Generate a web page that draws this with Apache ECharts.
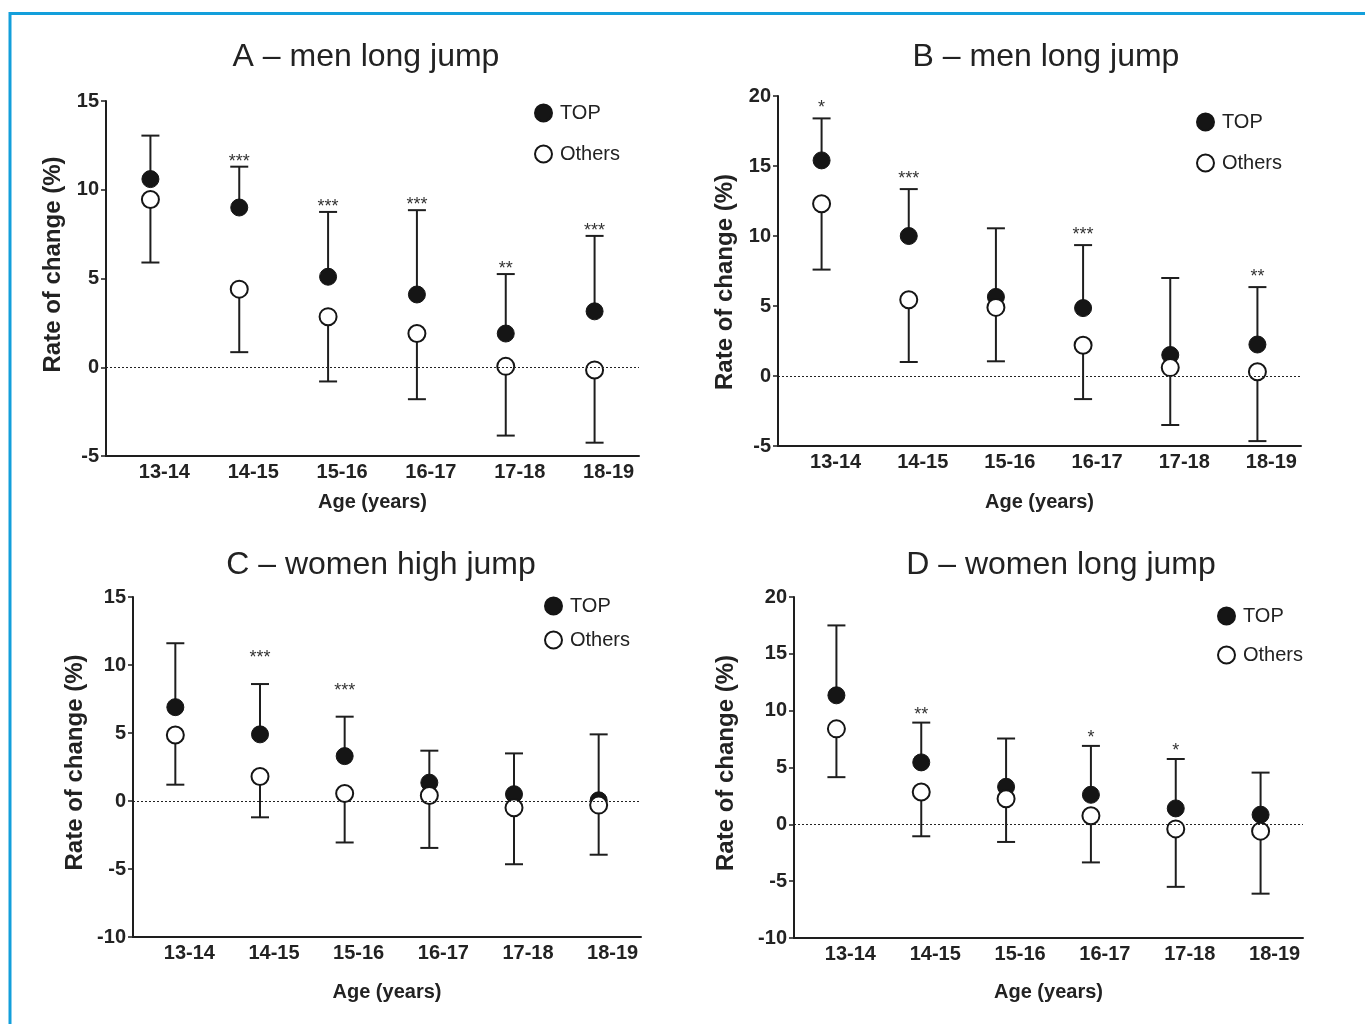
<!DOCTYPE html>
<html>
<head>
<meta charset="utf-8">
<script src="https://cdn.jsdelivr.net/npm/echarts@6/dist/echarts.min.js"></script>
<style>
html,body{margin:0;padding:0;background:#fff;}
#chart{width:1365px;height:1024px;}
</style>
</head>
<body>
<div id="chart"></div>
<script>
// ---------- data ----------
const categories = ['13-14', '14-15', '15-16', '16-17', '17-18', '18-19'];

// Panel A – men long jump
const aTop = [10.6, 9.0, 5.1, 4.1, 1.9, 3.15];
const aTopUpper = [13.05, 11.3, 8.75, 8.85, 5.25, 7.4];
const aOthers = [9.45, 4.4, 2.85, 1.9, 0.05, -0.15];
const aOthersLower = [5.9, 0.85, -0.8, -1.8, -3.85, -4.25];
const aStars = ['', '***', '***', '***', '**', '***'];

// Panel B – men long jump
const bTop = [15.4, 10.0, 5.65, 4.85, 1.5, 2.25];
const bTopUpper = [18.4, 13.35, 10.55, 9.35, 7.0, 6.35];
const bOthers = [12.3, 5.45, 4.9, 2.2, 0.6, 0.3];
const bOthersLower = [7.6, 1.0, 1.05, -1.65, -3.5, -4.65];
const bStars = ['*', '***', '', '***', '', '**'];

// Panel C – women high jump
const cTop = [6.9, 4.9, 3.3, 1.35, 0.5, 0.05];
const cTopUpper = [11.6, 8.6, 6.2, 3.7, 3.5, 4.9];
const cOthers = [4.85, 1.8, 0.55, 0.4, -0.5, -0.3];
const cOthersLower = [1.2, -1.2, -3.05, -3.45, -4.65, -3.95];
const cStars = ['', '***', '***', '', '', ''];

// Panel D – women long jump
const dTop = [11.35, 5.45, 3.3, 2.6, 1.4, 0.85];
const dTopUpper = [17.5, 8.95, 7.55, 6.9, 5.75, 4.55];
const dOthers = [8.4, 2.85, 2.25, 0.75, -0.4, -0.6];
const dOthersLower = [4.15, -1.05, -1.55, -3.35, -5.5, -6.1];
const dStars = ['', '**', '', '*', '*', ''];

const titles = ['A \u2013 men long jump', 'B \u2013 men long jump', 'C \u2013 women high jump', 'D \u2013 women long jump'];
const yMins = [-5, -5, -10, -10];
const yMaxs = [15, 20, 15, 20];
const yInterval = 5;
const yName = 'Rate of change (%)';
const xName = 'Age (years)';

// ---------- layout ----------
const FONT = "'Liberation Sans', Arial, Helvetica, sans-serif";
const INK = '#1e1e1e';
const panels = [
  {top: aTop, topUp: aTopUpper, oth: aOthers, othLo: aOthersLower, stars: aStars,
   grid: {left: 106, top: 101, width: 533, height: 355},
   title: [361, 36], legend: [529, 98, 21], starOff: 10, yGap: 41, yPad: [0, 0, 0, 28], xGap: 36},
  {top: bTop, topUp: bTopUpper, oth: bOthers, othLo: bOthersLower, stars: bStars,
   grid: {left: 778, top: 96, width: 523, height: 350},
   title: [1041, 36], legend: [1191, 107, 21], starOff: 15, yGap: 41, yPad: [0, 22, 0, 0], xGap: 46},
  {top: cTop, topUp: cTopUpper, oth: cOthers, othLo: cOthersLower, stars: cStars,
   grid: {left: 133, top: 597, width: 508, height: 340},
   title: [376, 544], legend: [539, 591, 14], starOff: 31, yGap: 46, yPad: [0, 0, 0, 9], xGap: 45},
  {top: dTop, topUp: dTopUpper, oth: dOthers, othLo: dOthersLower, stars: dStars,
   grid: {left: 794, top: 597, width: 509, height: 341},
   title: [1056, 544], legend: [1212, 601, 19], starOff: 13, yGap: 56, yPad: [0, 0, 0, 9], xGap: 44}
];

function errorBarRender(params, api) {
  const p1 = api.coord([api.value(0), api.value(1)]);
  const p2 = api.coord([api.value(0), api.value(2)]);
  const hw = 9;
  return {
    type: 'group',
    children: [
      {type: 'line', shape: {x1: p1[0], y1: p1[1], x2: p2[0], y2: p2[1]}, style: {stroke: INK, lineWidth: 2}},
      {type: 'line', shape: {x1: p2[0] - hw, y1: p2[1], x2: p2[0] + hw, y2: p2[1]}, style: {stroke: INK, lineWidth: 2}}
    ]
  };
}

const option = {
  animation: false,
  backgroundColor: '#fff',
  title: [], legend: [], grid: [], xAxis: [], yAxis: [], series: [],
  graphic: [{
    type: 'polyline', silent: true,
    shape: {points: [[10, 1030], [10, 13.5], [1370, 13.5]]},
    style: {stroke: '#139fdb', lineWidth: 3, fill: null}
  }]
};

panels.forEach((p, k) => {
  option.title.push({
    text: titles[k], left: p.title[0], top: p.title[1], textAlign: 'center',
    textStyle: {fontFamily: FONT, fontSize: 32, fontWeight: 'normal', color: '#222'}
  });
  option.legend.push({
    orient: 'vertical', left: p.legend[0], top: p.legend[1], itemGap: p.legend[2],
    itemWidth: 17, itemHeight: 17, selectedMode: false, icon: 'circle',
    data: ['TOP', 'Others'],
    textStyle: {fontFamily: FONT, fontSize: 20, color: '#222', padding: [0, 0, 0, 3]}
  });
  option.grid.push(Object.assign({containLabel: false}, p.grid));
  option.xAxis.push({
    type: 'category', gridIndex: k, data: categories, boundaryGap: true,
    name: xName, nameLocation: 'middle', nameGap: p.xGap,
    nameTextStyle: {fontFamily: FONT, fontSize: 20, fontWeight: 'bold', color: '#222'},
    axisLine: {onZero: false, lineStyle: {color: INK, width: 2}},
    axisTick: {alignWithLabel: true, length: 5, lineStyle: {color: INK, width: 1.5}},
    axisLabel: {fontFamily: FONT, fontSize: 20, fontWeight: 'bold', color: '#222', margin: 6, padding: [0, 0, 0, 28]},
    splitLine: {show: false}
  });
  option.yAxis.push({
    type: 'value', gridIndex: k, min: yMins[k], max: yMaxs[k], interval: yInterval,
    name: yName, nameLocation: 'middle', nameGap: p.yGap, nameRotate: 90,
    nameTextStyle: {fontFamily: FONT, fontSize: 24, fontWeight: 'bold', color: '#222', padding: p.yPad},
    axisLine: {show: true, lineStyle: {color: INK, width: 2}},
    axisTick: {show: true, length: 5, lineStyle: {color: INK, width: 1.5}},
    axisLabel: {fontFamily: FONT, fontSize: 20, fontWeight: 'bold', color: '#222', margin: 7},
    splitLine: {show: false}
  });
  // error bars TOP (upward) + zero line
  option.series.push({
    type: 'custom', name: 'errTop' + k, xAxisIndex: k, yAxisIndex: k, z: 1,
    renderItem: errorBarRender,
    data: categories.map((c, i) => [i, p.top[i], p.topUp[i]]),
    markLine: {
      silent: true, symbol: ['none', 'none'], label: {show: false},
      lineStyle: {type: [2, 2], color: '#222', width: 1.2},
      data: [{yAxis: 0}]
    }
  });
  // error bars Others (downward)
  option.series.push({
    type: 'custom', name: 'errOth' + k, xAxisIndex: k, yAxisIndex: k, z: 1,
    renderItem: errorBarRender,
    data: categories.map((c, i) => [i, p.oth[i], p.othLo[i]])
  });
  // significance stars
  const stars = p.stars, off = p.starOff;
  option.series.push({
    type: 'custom', name: 'stars' + k, xAxisIndex: k, yAxisIndex: k, z: 1,
    renderItem: function (params, api) {
      const pt = api.coord([api.value(0), api.value(1)]);
      return {
        type: 'text',
        style: {text: stars[params.dataIndex], x: pt[0], y: pt[1] - off + 5,
          align: 'center', verticalAlign: 'middle', fill: '#333', font: '18px ' + FONT}
      };
    },
    data: categories.map((c, i) => [i, p.topUp[i]])
  });
  option.series.push({
    type: 'scatter', name: 'TOP', xAxisIndex: k, yAxisIndex: k, z: 3,
    symbol: 'circle', symbolSize: 17,
    itemStyle: {color: '#151515', borderColor: '#151515', borderWidth: 1, opacity: 1},
    data: categories.map((c, i) => [i, p.top[i]])
  });
  option.series.push({
    type: 'scatter', name: 'Others', xAxisIndex: k, yAxisIndex: k, z: 4,
    symbol: 'circle', symbolSize: 17,
    itemStyle: {color: '#ffffff', borderColor: '#151515', borderWidth: 2, opacity: 1},
    data: categories.map((c, i) => [i, p.oth[i]])
  });
});

const chart = echarts.init(document.getElementById('chart'), null, {renderer: 'canvas'});
chart.setOption(option);
</script>
</body>
</html>
